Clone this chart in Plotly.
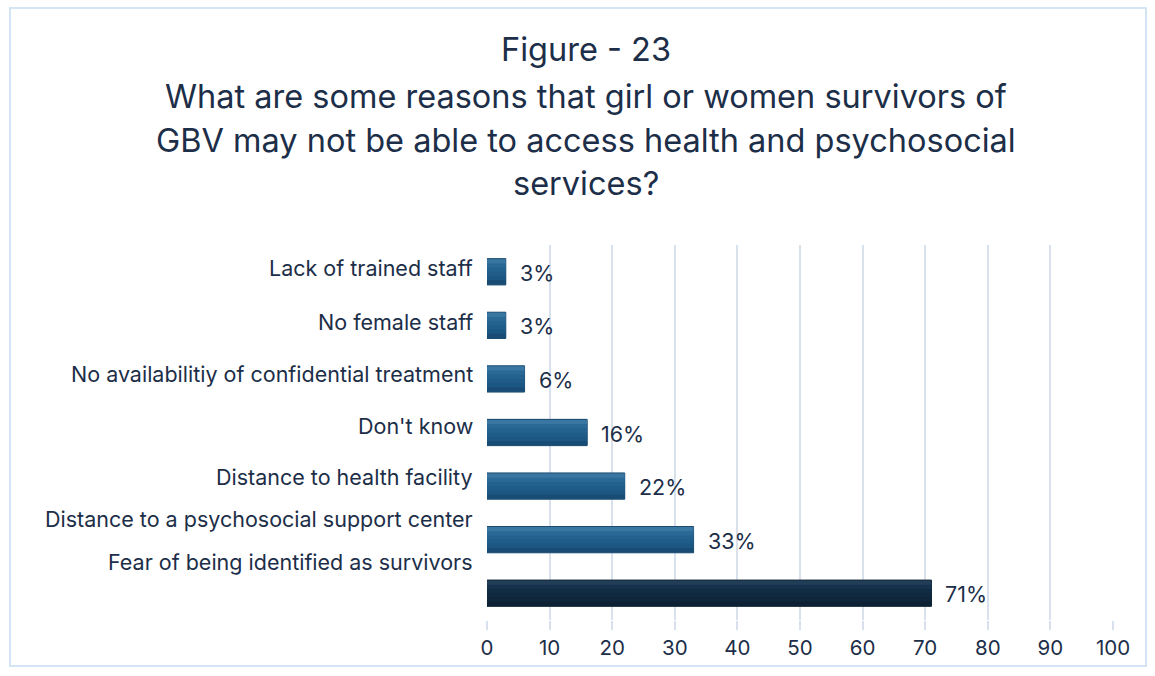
import plotly.graph_objects as go

# Survey responses, listed top to bottom as displayed
reasons = [
    "Lack of trained staff",
    "No female staff",
    "No availabilitiy of confidential treatment",
    "Don't know",
    "Distance to health facility",
    "Distance to a psychosocial support center",
    "Fear of being identified as survivors",
]
percent = [3, 3, 6, 16, 22, 33, 71]
x_ticks = [0, 10, 20, 30, 40, 50, 60, 70, 80, 90, 100]

title_lines = [
    "Figure - 23",
    "What are some reasons that girl or women survivors of",
    "GBV may not be able to access health and psychosocial",
    "services?",
]

# styling
FONT = "Inter"
TEXT = "#1c2e48"
GRID = "#d9e2ec"
# top-to-bottom shading bands for the regular and the highlighted bar
SHADE = ["#3a76a2", "#2a6896", "#23618f", "#1f5c89", "#1c5682", "#184c74"]
SHADE_TOP = ["#223e57", "#16314b", "#122c44", "#10293f", "#0f263b", "#0d2134"]
BAR_W = 0.49
# vertical nudges (px) for the category captions
label_shift = [4, 3, 5, 7, 9, 21, 31]

W, H = 1155, 676
L, R, T, B = 487, 42, 245, 56
pw, ph = W - L - R, H - T - B


def px_x(px):
    return (px - L) / pw


def px_y(py):
    return (H - B - py) / ph


is_top = [v == max(percent) for v in percent]

fig = go.Figure()
# base bar with outline
fig.add_trace(go.Bar(
    x=percent, y=reasons, orientation="h", width=BAR_W,
    marker=dict(color=[SHADE_TOP[3] if t else SHADE[3] for t in is_top],
                line=dict(color=["#0c1f30" if t else "#1a4a6e" for t in is_top], width=1)),
    hoverinfo="skip",
))
# shading bands drawn over the base bar; each overlaps the next to avoid seams
n = len(SHADE)
inner = BAR_W - 0.02
band = inner / n
for i in range(n):
    w = band * 1.6 if i < n - 1 else band
    fig.add_trace(go.Bar(
        x=percent, y=reasons, orientation="h",
        width=w, offset=-inner / 2 + i * band,
        marker=dict(color=[SHADE_TOP[i] if t else SHADE[i] for t in is_top],
                    line=dict(width=0)),
        hoverinfo="skip",
    ))

annotations = []
# value labels beside each bar
for r, v in zip(reasons, percent):
    annotations.append(dict(
        x=v, y=r, xref="x", yref="y", text=f"{v}%", showarrow=False,
        xanchor="left", xshift=12, yshift=-1,
        font=dict(family=FONT, size=21.5, color=TEXT),
    ))
# category captions
for r, s in zip(reasons, label_shift):
    annotations.append(dict(
        x=0, y=r, xref="paper", yref="y", text=r, showarrow=False,
        xanchor="right", xshift=-12, yshift=s,
        font=dict(family=FONT, size=21.5, color=TEXT),
    ))
# title block
title_y = [49, 97, 140, 184]
for line, py in zip(title_lines, title_y):
    annotations.append(dict(
        x=px_x(586), y=px_y(py), xref="paper", yref="paper", text=line,
        showarrow=False, xanchor="center", yanchor="middle",
        font=dict(family=FONT, size=32.5, color=TEXT),
    ))

fig.update_layout(
    width=W, height=H,
    margin=dict(l=L, r=R, t=T, b=B),
    paper_bgcolor="white", plot_bgcolor="white",
    showlegend=False, barmode="overlay",
    annotations=annotations,
    shapes=[dict(
        type="rect", xref="paper", yref="paper",
        x0=px_x(10), x1=px_x(1146), y0=px_y(666), y1=px_y(8),
        line=dict(color="#d3e5f4", width=2), layer="below",
    )],
    xaxis=dict(
        range=[0, 100], tickvals=x_ticks, showgrid=True,
        gridcolor=GRID, gridwidth=2, zeroline=False,
        ticks="outside", ticklen=9, tickcolor=GRID, tickwidth=2,
        tickfont=dict(family=FONT, size=20.5, color=TEXT),
        showline=False, fixedrange=True,
    ),
    xaxis_ticklabelstandoff=0,
    yaxis=dict(
        range=[len(reasons) - 0.5, -0.5], autorange=False,
        showticklabels=False, showgrid=False,
        zeroline=False, showline=False, fixedrange=True,
    ),
)

fig.write_html("out.html")
